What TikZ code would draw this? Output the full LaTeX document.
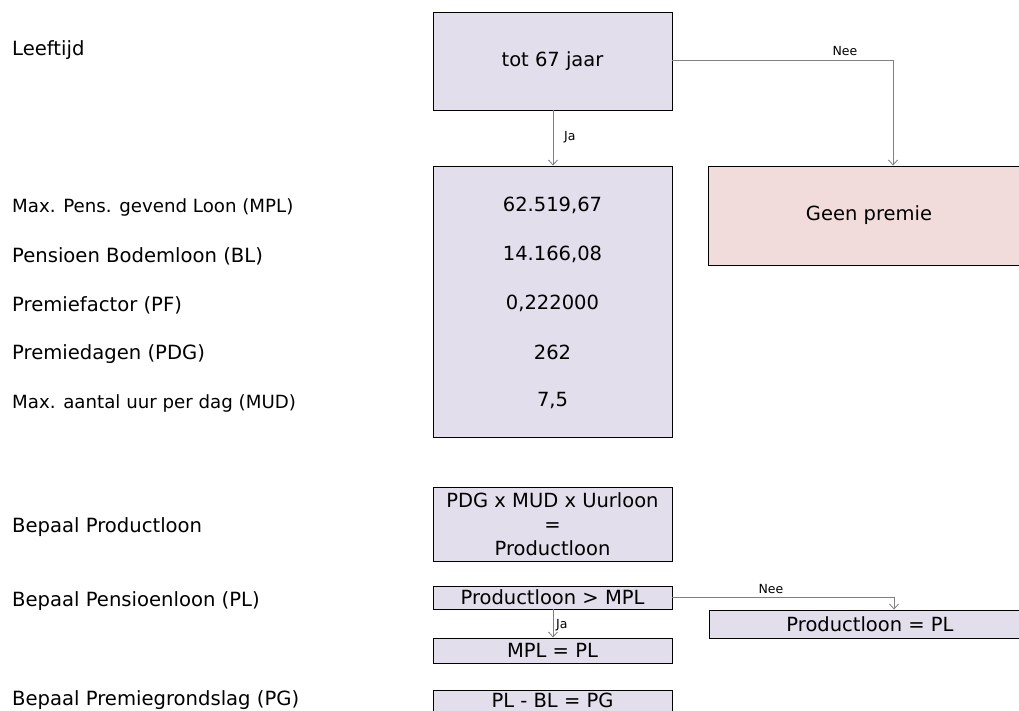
\documentclass[tikz,border=0pt]{standalone}
\usepackage{fontspec}
\setmainfont{DejaVu Sans}
\usetikzlibrary{arrows.meta}
\definecolor{lav}{RGB}{226,222,236}
\definecolor{rose}{RGB}{242,220,219}
\definecolor{conn}{RGB}{128,128,128}
\tikzset{
  box/.style={draw=black, line width=0.9pt, fill=lav, inner sep=0pt, font=\fontsize{19.5}{24}\selectfont, align=center},
  nobox/.style={draw=black, line width=0.9pt, fill=rose, inner sep=0pt, font=\fontsize{19.5}{23.5}\selectfont},
  lbl/.style={anchor=west, inner sep=0pt, font=\fontsize{19.6}{23}\selectfont},
  lblmax/.style={anchor=west, inner sep=0pt, font=\fontsize{18.2}{22}\selectfont},
  val/.style={inner sep=0pt, font=\fontsize{19.5}{23.5}\selectfont},
  small/.style={inner sep=0pt, font=\fontsize{12.5}{15}\selectfont},
  conn/.style={draw=conn, line width=0.8pt, -{Straight Barb[length=5pt,width=9pt]}}
}
\begin{document}
\begin{tikzpicture}[x=1pt,y=-1pt]
\useasboundingbox (0,0) rectangle (1019,711);
\clip (0,0) rectangle (1019,711);
% boxes
\node[box, minimum width=239pt, minimum height=98pt] (top) at (552.5,61) {tot 67 jaar};
\node[box, minimum width=239pt, minimum height=271pt] (vals) at (552.5,301.5) {};
\node[nobox, minimum width=322pt, minimum height=99pt] (geen) at (869,215.5) {Geen premie};
\node[box, minimum width=239pt, minimum height=74pt] (prod) at (552.5,524.5) {PDG x MUD x Uurloon\\=\\Productloon};
\node[box, minimum width=239pt, minimum height=23pt] (pm) at (552.5,597.5) {Productloon > MPL};
\node[box, minimum width=239pt, minimum height=25pt] (mpl) at (552.5,650.5) {MPL = PL};
\node[box, minimum width=322pt, minimum height=28pt] (ppl) at (870,624) {Productloon = PL};
\node[box, minimum width=239pt, minimum height=26pt, text height=14.2pt, text depth=6.2pt] (pg) at (552.5,703) {PL - BL = PG};
% values
\node[val] (v1) at (552.5,205) {62.519,67};
\node[val] (v2) at (552.5,254) {14.166,08};
\node[val] (v3) at (552.5,303) {0,222000};
\node[val] (v4) at (552.5,352) {262};
\node[val] (v5) at (552.5,401) {7,5};
% left labels
\node[lbl] (l0) at (12,50) {Leeftijd};
\node[lblmax] (l1) at (12,207) {Max. Pens. gevend Loon (MPL)};
\node[lbl] (l2) at (12,256) {Pensioen Bodemloon (BL)};
\node[lbl] (l3) at (12,305) {Premiefactor (PF)};
\node[lbl] (l4) at (12,354) {Premiedagen (PDG)};
\node[lblmax] (l5) at (12,403) {Max. aantal uur per dag (MUD)};
\node[lbl] (l6) at (12,527) {Bepaal Productloon};
\node[lbl] (l7) at (12,601) {Bepaal Pensioenloon (PL)};
\node[lbl] (l8) at (12,700) {Bepaal Premiegrondslag (PG)};
% connectors
\coordinate (k1) at (893,60);
\coordinate (k2) at (894,597.5);
\draw[conn] (top.south -| 553,0) -- (vals.north -| 553,0);
\node[small, anchor=west] (ja1) at (564,137) {Ja};
\draw[conn] (top.east |- k1) -- (k1) -- (k1 |- geen.north);
\node[small] (nee1) at (845,51) {Nee};
\draw[conn] (pm.south -| 553,0) -- (mpl.north -| 553,0);
\node[small, anchor=west] (ja2) at (556,625) {Ja};
\draw[conn] (pm.east) -- (k2) -- (k2 |- ppl.north);
\node[small] (nee2) at (771,589) {Nee};
\end{tikzpicture}
\end{document}
